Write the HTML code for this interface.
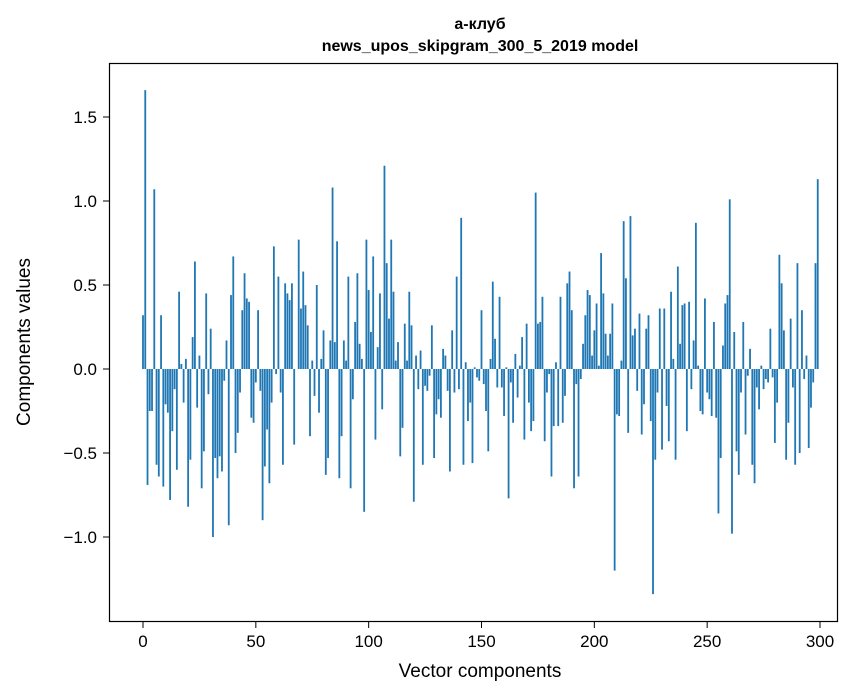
<!DOCTYPE html>
<html><head><meta charset="utf-8"><style>
body{margin:0;background:#fff;}
svg{display:block;font-family:"Liberation Sans","Noto Sans CJK SC",sans-serif;}
</style></head><body>
<svg id="chart" width="867" height="696" viewBox="0 0 867 696">
<rect width="867" height="696" fill="#fff"/>
<text x="480" y="29" text-anchor="middle" font-size="16" font-weight="bold">а-клуб</text>
<text x="480" y="51" text-anchor="middle" font-size="16" font-weight="bold">news_upos_skipgram_300_5_2019 model</text>
<g id="bars"></g>
<g id="xticks"></g>
<g id="yticks"></g>
<rect x="109.5" y="63.5" width="728" height="558" fill="none" stroke="#000" stroke-width="1.2"/>
<text x="480" y="677" text-anchor="middle" font-size="19">Vector components</text>
<text transform="translate(30,342) rotate(-90)" text-anchor="middle" font-size="19">Components values</text>
</svg>
<script>
const values = [0.32,1.66,-0.69,-0.25,-0.25,1.07,-0.57,-0.64,0.32,-0.70,-0.21,-0.26,-0.78,-0.37,-0.12,-0.60,0.46,0.03,-0.20,0.06,-0.82,-0.54,0.19,0.64,-0.23,0.08,-0.71,-0.49,0.45,-0.15,0.24,-1.00,-0.53,-0.65,-0.52,-0.61,-0.07,0.17,-0.93,0.44,0.67,-0.50,-0.38,-0.14,0.35,0.57,0.42,0.40,-0.29,-0.32,
-0.08,0.35,-0.13,-0.90,-0.58,-0.36,-0.68,-0.20,0.73,-0.03,0.55,-0.14,-0.57,0.51,0.45,0.41,0.51,-0.45,0.0,0.77,0.36,0.58,0.38,0.26,-0.40,0.05,-0.16,0.50,-0.26,0.06,0.23,-0.63,-0.53,0.17,1.08,0.16,0.76,-0.65,-0.40,0.17,0.05,0.55,-0.71,-0.18,0.28,0.57,0.15,0.06,-0.85,0.77,
0.47,0.22,0.67,-0.42,0.13,0.45,-0.24,1.21,0.63,0.30,0.77,0.46,0.05,0.16,-0.52,-0.35,0.27,0.05,0.46,0.26,-0.79,0.08,-0.12,0.11,-0.57,-0.10,-0.13,-0.04,0.26,-0.53,-0.27,-0.18,-0.29,0.12,0.08,-0.13,-0.61,0.23,-0.14,0.55,-0.12,0.90,-0.57,0.04,-0.31,-0.20,-0.56,0.01,-0.05,-0.07,
0.35,-0.09,-0.25,-0.49,0.06,0.52,0.18,-0.11,0.43,-0.11,-0.28,0.01,-0.77,-0.08,-0.32,0.09,-0.17,0.02,0.19,-0.42,0.27,-0.20,-0.37,-0.31,1.05,0.27,0.28,0.43,-0.43,-0.14,-0.03,-0.64,-0.34,0.04,-0.34,0.43,-0.32,-0.16,0.51,0.58,0.35,-0.71,-0.09,-0.64,-0.06,0.15,0.32,0.47,0.44,0.08,
0.23,0.39,0.02,0.69,0.45,0.21,0.08,0.21,0.39,-1.20,-0.27,-0.28,0.05,0.88,0.54,-0.38,0.91,0.20,0.24,-0.13,0.33,-0.39,-0.21,0.24,0.32,-0.31,-1.34,-0.54,-0.14,0.36,-0.48,0.36,-0.22,-0.43,0.46,0.06,-0.54,0.61,0.15,0.38,0.39,-0.37,0.40,-0.12,0.17,0.87,0.02,-0.25,-0.27,0.42,
-0.14,-0.18,-0.28,0.28,-0.29,-0.86,-0.53,0.14,0.39,0.44,1.01,-0.98,0.22,-0.49,-0.63,-0.14,0.28,-0.39,-0.04,0.12,-0.57,-0.68,-0.11,-0.24,0.02,-0.12,-0.06,-0.08,0.24,-0.05,-0.44,-0.20,0.68,0.51,0.23,-0.54,-0.32,0.30,-0.11,-0.57,0.63,-0.50,0.35,-0.06,0.08,-0.47,-0.23,-0.08,0.63,1.13];
const xTickLabels = [0,50,100,150,200,250,300];
const yTickLabels = [-1.0,-0.5,0.0,0.5,1.0,1.5];

const NS = "http://www.w3.org/2000/svg";
function xs(i){ return 143 + i * 677 / 300; }
function ys(v){ return 369 - v * 168; }

const barsG = document.getElementById('bars');
values.forEach(function(v, i){
  const r = document.createElementNS(NS, 'rect');
  const y0 = ys(0), y1 = ys(v);
  r.setAttribute('x', xs(i - 0.4));
  r.setAttribute('width', xs(0.8) - xs(0));
  r.setAttribute('y', Math.min(y0, y1));
  r.setAttribute('height', Math.abs(y1 - y0));
  r.setAttribute('fill', '#1f77b4');
  
  
  barsG.appendChild(r);
});

const xg = document.getElementById('xticks');
xTickLabels.forEach(function(t){
  const x = xs(t);
  const l = document.createElementNS(NS, 'line');
  l.setAttribute('x1', x); l.setAttribute('x2', x);
  l.setAttribute('y1', 622); l.setAttribute('y2', 628);
  l.setAttribute('stroke', '#000');
  
  
  xg.appendChild(l);
  const tx = document.createElementNS(NS, 'text');
  tx.setAttribute('x', x); tx.setAttribute('y', 647);
  tx.setAttribute('text-anchor', 'middle'); tx.setAttribute('font-size', '17');
  tx.textContent = t;
  
  
  xg.appendChild(tx);
});

const yg = document.getElementById('yticks');
yTickLabels.forEach(function(t){
  const y = ys(t);
  const l = document.createElementNS(NS, 'line');
  l.setAttribute('x1', 103); l.setAttribute('x2', 109);
  l.setAttribute('y1', y); l.setAttribute('y2', y);
  l.setAttribute('stroke', '#000');
  
  
  yg.appendChild(l);
  const tx = document.createElementNS(NS, 'text');
  tx.setAttribute('x', 97); tx.setAttribute('y', y + 6);
  tx.setAttribute('text-anchor', 'end'); tx.setAttribute('font-size', '17');
  tx.textContent = (t < 0 ? '\u2212' : '') + Math.abs(t).toFixed(1);
  
  
  yg.appendChild(tx);
});
</script>
</body></html>
